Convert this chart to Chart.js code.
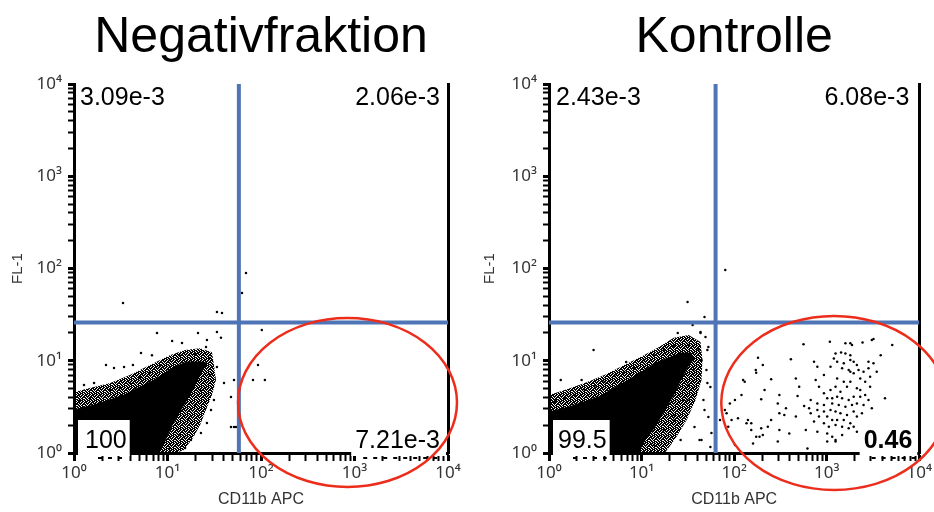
<!DOCTYPE html>
<html>
<head>
<meta charset="utf-8">
<script src="https://cdn.jsdelivr.net/npm/chart.js@4/dist/chart.umd.min.js"></script>
<style>
html, body { margin: 0; padding: 0; background: #fff; }
#wrap { position: relative; width: 934px; height: 512px; }
.pane { position: absolute; top: 0; width: 467px; height: 512px; }
</style>
</head>
<body>
<div id="wrap">
  <div class="pane" style="left:0"><canvas id="neg"></canvas></div>
  <div class="pane" style="left:467px"><canvas id="ctl"></canvas></div>
</div>
<script>
const FONT = '"Liberation Sans", Arial, Helvetica, sans-serif';
const TICKFONT = '"Noto Sans", "Liberation Sans", Arial, sans-serif';
const BLUE = '#4f75b6';
const RED = '#ec2d1c';

// axis decades and their labels
const decades = [1, 10, 100, 1000, 10000];
const tickLabels = ['10⁰', '10¹', '10²', '10³', '10⁴'];
const titles = ['Negativfraktion', 'Kontrolle'];
const xTitle = 'CD11b APC';
const yTitle = 'FL-1';

// quadrant gates (CD11b, FL-1) and the red ellipse gate [xMin, xMax, yMin, yMax]
const gateX = [58, 63];
const gateY = [26, 26];
const ellipseGates = [[56.8, 12480, 0.428, 29.1], [72.6, 19900, 0.397, 30.6]];

// quadrant percentages: top-left, top-right, bottom-right, bottom-left
const quadLabels = [
  ['3.09e-3', '2.06e-3', '7.21e-3', '100'],
  ['2.43e-3', '6.08e-3', '0.46', '99.5']
];

// dense main population: solid core outline and the speckled halo around it (CD11b, FL-1)
const negCloud = [[1,1],[1,2.93],[1.64,3.31],[3.43,4.25],[7.17,6.18],[11.7,8.55],[16.2,9.69],[22.8,9.69],[26.4,9.45],
  [22.8,7.37],[17.8,4.47],[13.9,2.93],[10.9,1.91],[9.18,1.28],[8.11,1],[1,1]];
const negHalo = [[1,1],[1,4.58],[1.48,5.07],[2.43,5.74],[3.97,7.01],[6.50,9.0],[10.6,11.5],[15.4,13.1],[22.3,13.7],[29.9,12.4],
  [31.4,9.0],[33.0,6.18],[29.9,4.25],[25.8,2.93],[22.3,2.01],[18.7,1.45],[15.0,1.08],[12.3,1],[1,1]];
const ctlCloud = [[1,1],[1,2.78],[1.64,3.15],[3.43,4.05],[7.17,6.18],[11.7,8.34],[15.0,9.69],[20.7,11.0],[26.4,12.1],[33.8,12.1],
  [37.3,10.7],[31.4,8.55],[26.4,6.18],[22.8,4.47],[17.8,2.93],[13.9,1.91],[10.9,1.38],[9.18,1],[1,1]];
const ctlHalo = [[1,1],[1,4.25],[1.48,4.82],[2.43,5.74],[3.97,7.01],[6.50,9.0],[10.6,11.5],[15.4,14.1],[22.3,17.7],[32.2,19.0],
  [43.3,16.0],[45.5,10.2],[44.4,6.18],[38.3,3.76],[30.7,2.28],[23.4,1.45],[17.8,1],[1,1]];

// single events outside the dense core
const negDots = [
  [3.34,42.3],[33.8,33.8],[38.3,33.0],[7.72,20.0],[11.2,16.4],[14.3,15.6],[21.2,20.0],[26.4,16.8],[25.8,14.1],[33.8,20.5],
  [37.3,17.7],[5.21,12.1],[6.82,11.5],[2.20,9.0],[2.68,8.34],[3.43,8.55],[4.27,9.0],[1.28,5.46],[1.64,5.74],[33.8,8.55],
  [40.2,5.74],[47.8,4.05],[31.4,3.76],[29.2,2.93],[26.4,2.11],[22.8,1.65],[17.8,1.38],[47.8,1.91],[54.0,1.91],[69.1,89.4],
  [62.6,54.2],[102,21.6],[92.9,9.0],[82.1,6.18],[110,6.18],[51.4,6.18],[51.4,1.91],
  [1.16,3.76],[1.48,3.95],[1.90,4.25],[2.43,4.82],[3.10,5.07],[3.97,5.74],[5.08,6.50],[6.50,7.55],[8.31,8.77],[10.6,10.2],
  [13.6,11.3],[19.7,11.8],[28.5,10.7],[28.5,7.01],[22.3,4.82],[19.7,3.31],[16.6,2.28],[13.6,1.57],[10.6,1.13],[15.4,1.13]
];
const ctlDots = [
  [31.4,43.3],[47.8,29.8],[35.6,24.4],[24.6,20.0],[43.3,20.0],[3.03,13.1],[6.82,9.69],[1.34,6.18],[2.25,6.18],[1.19,3.76],
  [1.76,4.05],[51.4,13.1],[51.4,5.74],[47.8,2.93],[37.3,1.91],[42.3,1.38],[26.4,1.38],[22.8,2.28],[31.4,3.76],[55.4,1.16],
  [80.1,96.3],
  [1.16,3.57],[1.48,3.95],[1.90,4.25],[2.43,4.82],[3.10,5.33],[3.97,5.88],[5.08,6.83],[6.50,7.55],[8.31,8.34],[10.6,10.2],
  [13.6,11.5],[17.4,13.1],[22.3,14.5],[32.2,14.8],[41.2,13.1],[36.4,7.94],[32.2,5.46],[28.5,3.76],[22.3,2.58],[17.4,1.78],[13.6,1.22],
  [43.3,20.5],[49.0,18.1],[52.7,14.1],[44.4,10.2],[50.2,7.94],[55.4,5.19],[46.6,3.76],[52.7,2.46],[56.8,1.65],[44.4,1.38],
  [561,15.1],[1081,16.1],[1592,15.5],[1799,15.5],[1875,14.8],[2438,15.8],[3069,16.8],[3199,17.2],[5101,14.8],[1245,12.0],
  [1429,12.3],[1592,12.0],[1799,11.5],[3828,11.5],[181,10.8],[410,10.4],[729,9.77],[1194,10.6],[1296,9.77],[1528,9.38],
  [1799,10.2],[1954,9.77],[2118,9.00],[2825,9.77],[3199,9.38],[204,9.00],[792,8.63],[1099,8.63],[1466,8.27],[1726,7.94],
  [1799,7.62],[1954,7.31],[2208,7.94],[2500,7.62],[2825,8.27],[3467,7.62],[171,7.94],[173,7.43],[251,6.29],[464,6.44],
  [760,6.18],[933,7.01],[1296,6.44],[1528,5.93],[1799,5.93],[2301,6.44],[2602,5.93],[2944,6.72],[125,6.18],[130,5.93],
  [504,5.24],[1099,4.82],[1245,5.24],[1406,4.62],[1656,5.24],[2118,5.02],[2301,4.82],[2944,5.24],[213,4.82],[825,5.24],
  [933,4.43],[1012,3.92],[1146,3.92],[1296,4.08],[1466,3.92],[1726,3.76],[1954,4.08],[2301,4.08],[2602,4.25],[2825,3.76],
  [4258,3.92],[102,3.76],[120,4.25],[196,3.82],[308,4.25],[484,4.15],[671,3.76],[792,3.45],[933,3.31],[1146,3.45],
  [1349,3.31],[1592,3.18],[1875,3.31],[2118,3.45],[2500,3.31],[3069,3.05],[89.9,3.45],[296,3.45],[363,3.05],[570,3.23],
  [645,3.05],[792,2.92],[933,2.81],[1099,2.92],[1245,2.81],[1406,2.69],[1656,2.58],[1954,2.81],[2118,2.48],[2399,2.69],
  [79.4,2.92],[82.8,2.69],[110,2.38],[141,2.28],[308,2.69],[348,2.58],[464,2.48],[671,2.69],[825,2.48],[1012,2.48],
  [1146,2.28],[1296,2.28],[1528,2.28],[1799,2.10],[70.3,2.28],[93.8,2.28],[153,2.10],[196,1.85],[231,1.93],[251,2.28],
  [729,2.19],[933,2.10],[1054,1.93],[1245,2.01],[1466,1.93],[1726,1.85],[1954,1.93],[86.3,1.93],[136,2.10],[153,1.78],
  [173,1.50],[188,1.50],[204,1.57],[308,1.78],[394,1.63],[594,1.78],[792,1.70],[1012,1.63],[1146,1.50],[1245,1.38],
  [1466,1.57],[2118,1.70],[296,1.33],[619,1.12],[1012,1.33],[1245,1.33],[160,1.27],[102,1.22]
];

// speckled fill for the halo: mostly black tile with a few white holes
function speckle() {
  const c = document.createElement('canvas');
  c.width = 7; c.height = 7;
  const g = c.getContext('2d');
  g.fillStyle = '#000';
  g.fillRect(0, 0, 7, 7);
  [[1,0],[4,0],[2,1],[6,1],[0,2],[4,2],[3,3],[6,3],[1,4],[5,4],[2,5],[4,5],[0,6],[6,6],[3,6]]
    .forEach(p => g.clearRect(p[0], p[1], 1, 1));
  return g.createPattern(c, 'repeat');
}

function logTicks() {
  const t = [];
  for (let d = 0; d < 4; d++) {
    for (let k = 1; k < 10; k++) t.push({ value: k * decades[d] });
  }
  t.push({ value: decades[4] });
  return t;
}
function decadeLabel(v) {
  const i = decades.indexOf(v);
  return i >= 0 ? tickLabels[i] : '';
}
function tickW(c) {
  return c.tick && decades.indexOf(c.tick.value) >= 0 ? 3 : 2;
}

// quadrant numbers and ellipse gate
const quadPlugin = {
  id: 'quad',
  afterDraw(chart, args, o) {
    const { ctx, chartArea: a, scales: { x, y } } = chart;
    const L = o.labels;
    ctx.save();
    ctx.fillStyle = '#000';
    ctx.textBaseline = 'alphabetic';
    ctx.font = '25px ' + FONT;
    ctx.textAlign = 'left';
    ctx.fillText(L[0], a.left + o.tlPad, a.top + 21);
    ctx.textAlign = 'right';
    ctx.fillText(L[1], a.right - o.trPad, a.top + 21);

    // bottom-left box
    const blW = ctx.measureText(L[3]).width;
    const blX = a.left + o.blPad;
    ctx.fillStyle = '#fff';
    ctx.fillRect(a.left + 4, a.bottom - 33, blX + blW + 3 - (a.left + 4), 36);
    ctx.fillStyle = '#000';
    ctx.textAlign = 'left';
    ctx.fillText(L[3], blX, a.bottom - 5);
    ctx.setLineDash([4, 6]);
    ctx.lineWidth = 2;
    ctx.beginPath();
    ctx.moveTo(a.left + 24, a.bottom + 5);
    ctx.lineTo(blX + blW, a.bottom + 5);
    ctx.stroke();

    // bottom-right box
    ctx.setLineDash([]);
    ctx.font = (o.brBold ? 'bold ' : '') + '25px ' + FONT;
    const brW = ctx.measureText(L[2]).width;
    const brR = a.right - o.brPad;
    ctx.fillStyle = '#fff';
    ctx.fillRect(brR - brW - 4, a.bottom - 33, a.right - 2 - (brR - brW - 4), 36);
    ctx.fillStyle = '#000';
    ctx.textAlign = 'right';
    ctx.fillText(L[2], brR, a.bottom - 5);
    ctx.setLineDash([4, 6]);
    ctx.beginPath();
    ctx.moveTo(brR - brW + 8, a.bottom + 5);
    ctx.lineTo(a.right - 4, a.bottom + 5);
    ctx.stroke();
    ctx.setLineDash([]);

    // ellipse gate
    const g = o.ellipse;
    const x0 = x.getPixelForValue(g[0]), x1 = x.getPixelForValue(g[1]);
    const y0 = y.getPixelForValue(g[2]), y1 = y.getPixelForValue(g[3]);
    ctx.strokeStyle = RED;
    ctx.lineWidth = 2.5;
    ctx.beginPath();
    ctx.ellipse((x0 + x1) / 2, (y0 + y1) / 2, (x1 - x0) / 2, (y0 - y1) / 2, 0, 0, Math.PI * 2);
    ctx.stroke();
    ctx.restore();
  }
};

function makeChart(id, i, cloud, halo, dots, lay) {
  new Chart(document.getElementById(id), {
    type: 'scatter',
    plugins: [quadPlugin],
    data: {
      datasets: [
        { type: 'line', data: [[gateX[i], decades[0]], [gateX[i], decades[4]]], borderColor: BLUE, borderWidth: 4, pointRadius: 0, order: 1 },
        { type: 'line', data: [[decades[0], gateY[i]], [decades[4], gateY[i]]], borderColor: BLUE, borderWidth: 4, pointRadius: 0, order: 1 },
        { data: dots, pointRadius: 1.25, backgroundColor: '#000', borderWidth: 0, order: 2 },
        { type: 'line', data: cloud, fill: 'shape', backgroundColor: '#000', borderColor: '#000', borderWidth: 1, pointRadius: 0, tension: 0, order: 3 },
        { type: 'line', data: halo, fill: 'shape', backgroundColor: speckle(), borderWidth: 0, pointRadius: 0, tension: 0, order: 4 }
      ]
    },
    options: {
      responsive: true,
      maintainAspectRatio: false,
      animation: false,
      events: [],
      layout: { padding: 0 },
      plugins: {
        legend: { display: false },
        tooltip: { enabled: false },
        title: {
          display: true, text: titles[i], fullSize: false, color: '#000',
          font: { family: FONT, size: 50, weight: 'normal' },
          padding: { top: 8, bottom: 16 }
        },
        quad: { labels: quadLabels[i], ellipse: ellipseGates[i], tlPad: lay.tlPad, trPad: lay.trPad, blPad: lay.blPad, brPad: lay.brPad, brBold: i === 1 }
      },
      scales: {
        x: {
          type: 'logarithmic', min: decades[0], max: decades[4], position: 'bottom',
          border: { color: '#000', width: 3 },
          grid: { drawOnChartArea: false, tickLength: 8, tickColor: '#000', tickWidth: tickW },
          ticks: { autoSkip: false, maxRotation: 0, padding: 2, color: '#333', font: { family: TICKFONT, size: 17 }, callback: decadeLabel },
          title: { display: true, text: xTitle, color: '#333', font: { family: FONT, size: 16 }, padding: { top: 0, bottom: 3 } },
          afterBuildTicks: s => { s.ticks = logTicks(); },
          afterFit: s => { s.height = 59; }
        },
        y: {
          type: 'logarithmic', min: decades[0], max: decades[4], position: 'left',
          border: { color: '#000', width: 3 },
          grid: { drawOnChartArea: false, tickLength: 6, tickColor: '#000', tickWidth: tickW },
          ticks: { autoSkip: false, padding: 6, color: '#333', font: { family: TICKFONT, size: 17 }, callback: decadeLabel },
          title: { display: true, text: yTitle, color: '#333', font: { family: FONT, size: 15 }, padding: { top: lay.yTitlePad, bottom: 0 } },
          afterBuildTicks: s => { s.ticks = logTicks(); },
          afterFit: s => { s.width = lay.yW; }
        },
        yr: {
          axis: 'y', position: 'right', display: true,
          border: { color: '#000', width: 3 },
          grid: { display: false, drawTicks: false },
          ticks: { display: false },
          afterFit: s => { s.width = lay.rW; }
        }
      }
    }
  });
}

makeChart('neg', 0, negCloud, negHalo, negDots, { yW: 74, rW: 19, yTitlePad: 9, tlPad: 6, trPad: 8, blPad: 11, brPad: 8 });
makeChart('ctl', 1, ctlCloud, ctlHalo, ctlDots, { yW: 82, rW: 11, yTitlePad: 14, tlPad: 7, trPad: 10, blPad: 9, brPad: 7 });
</script>
</body>
</html>
